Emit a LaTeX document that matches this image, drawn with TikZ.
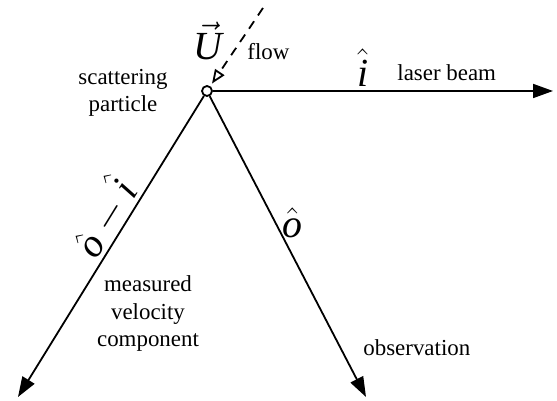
\documentclass[tikz,border=0pt]{standalone}
\usepackage{fontspec}
\setmainfont{Liberation Serif}
\usetikzlibrary{positioning,arrows.meta}
\tikzset{
  vecLine/.style={line width=0.9bp, -{Triangle[length=10bp, width=7bp]}},
  flowLine/.style={line width=0.9bp, dash pattern=on 4.5bp off 3.5bp, shorten >=1.5bp, -{Triangle[open, length=7bp, width=5.5bp]}},
  textLabel/.style={font=\fontsize{11.5}{14}\selectfont, align=center, inner sep=0pt},
  mathLabel/.style={font=\fontsize{20}{24}\selectfont, inner sep=0pt},
  particleDot/.style={circle, draw, line width=0.9bp, fill=white, minimum size=5bp, inner sep=0pt}
}

\begin{document}
\begin{tikzpicture}[x=0.5bp, y=-0.5bp]
  \useasboundingbox (0,0) rectangle (557,401);
  \node[particleDot] (particle) at (207,91) {};
  \coordinate (beamEnd) at (553,91);
  \coordinate (compEnd) at (18,397);
  \coordinate (obsEnd) at (366,397);
  \coordinate (flowStart) at (263,8);
  % vectors from the particle
  \draw[vecLine] (particle) -- node[mathLabel, pos=.44, above=2bp] (iHat) {\(\hat{\mbox{\itshape i}}\)} (beamEnd);
  \draw[vecLine] (particle) -- node[mathLabel, pos=.44, sloped, above=0.5bp] (diffHat) {\(\hat{\mbox{\itshape o}} - \hat{\mbox{\itshape i}}\)} (compEnd);
  \draw[vecLine] (particle) -- node[mathLabel, pos=.42, right=3bp] (oHat) {\(\hat{\mbox{\itshape o}}\)} (obsEnd);
  \draw[flowLine] (flowStart) -- (particle);
  % labels
  \node[mathLabel, anchor=base] (uVec) at (208,60) {\(\vec{\mbox{\itshape U}}\)};
  \node[textLabel, anchor=base west] (flowText) at (247,60) {flow};
  \node[textLabel, anchor=base] (particleText) at (123,112) {scattering\\particle};
  \node[textLabel, anchor=base west] (beamText) at (397,81) {laser beam};
  \node[textLabel, anchor=base] (compText) at (148,347) {measured\\velocity\\component};
  \node[textLabel, anchor=base west] (obsText) at (363,356) {observation};
\end{tikzpicture}
\end{document}
